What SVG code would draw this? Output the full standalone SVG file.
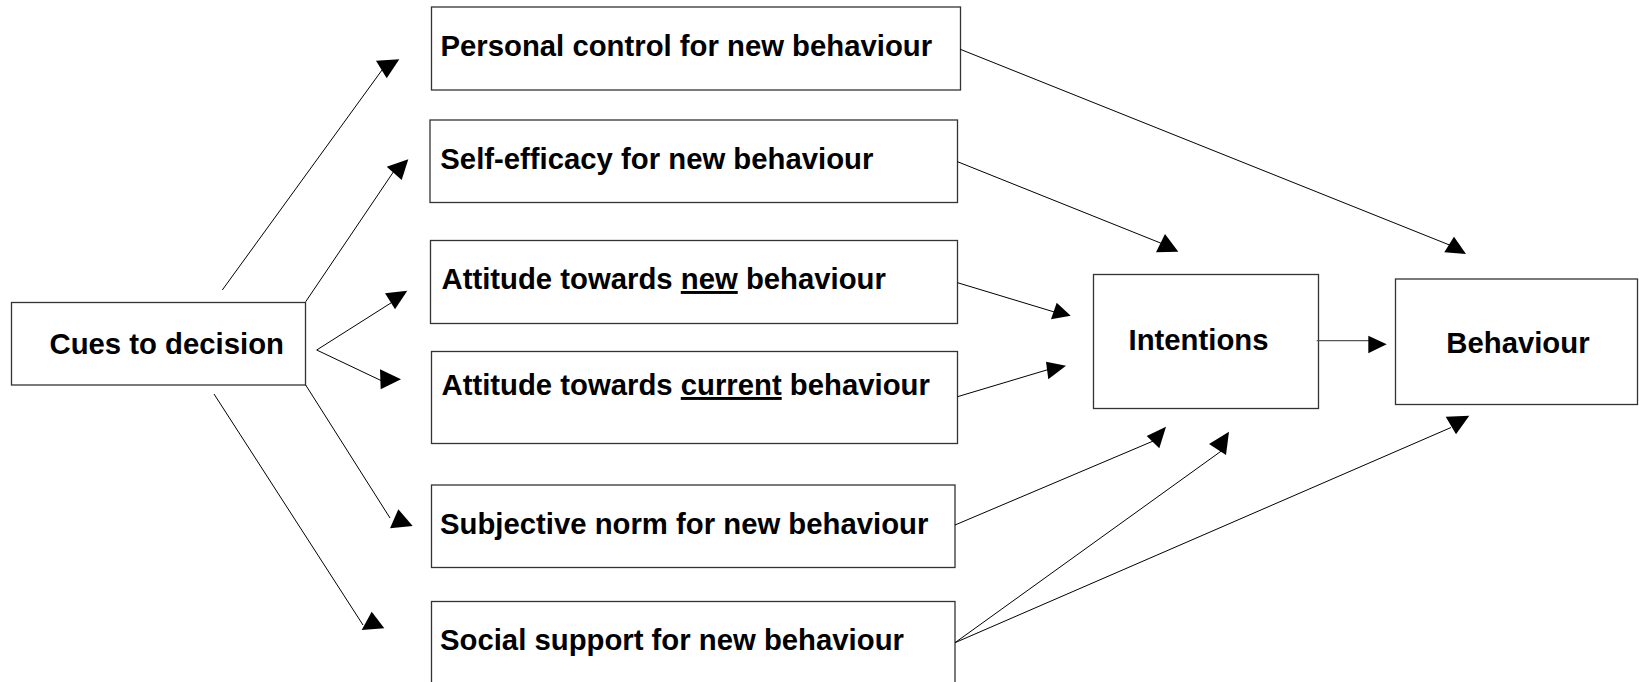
<svg xmlns="http://www.w3.org/2000/svg" width="1639" height="682" viewBox="0 0 1639 682">
<style>
.box{fill:#fff;stroke:#333;stroke-width:1.3}
.t{font-family:"Liberation Sans",Arial,sans-serif;font-weight:bold;font-size:29.3px;fill:#000}
.c{stroke:#000;stroke-width:1;fill:none}
.h{fill:#000;stroke:none}
</style>
<rect width="1639" height="682" fill="#fff"/>
<g id="cues"><rect class="box" x="11.5" y="302.5" width="294" height="82.5"/><text class="t" x="49.5" y="353.5">Cues to decision</text></g>
<g id="personal"><rect class="box" x="431.5" y="7" width="529" height="83"/><text class="t" x="440.5" y="56">Personal control for new behaviour</text></g>
<g id="selfefficacy"><rect class="box" x="430" y="120" width="527.5" height="82.5"/><text class="t" x="440.3" y="168.5">Self-efficacy for new behaviour</text></g>
<g id="attnew"><rect class="box" x="430.5" y="240.5" width="527" height="83"/><text class="t" x="441.5" y="289">Attitude towards <tspan text-decoration="underline">new</tspan> behaviour</text></g>
<g id="attcurrent"><rect class="box" x="431.5" y="351.5" width="526" height="92"/><text class="t" x="441.5" y="395">Attitude towards <tspan text-decoration="underline">current</tspan> behaviour</text></g>
<g id="subjective"><rect class="box" x="431.5" y="485" width="523.5" height="82.5"/><text class="t" x="440" y="534">Subjective norm for new behaviour</text></g>
<g id="social"><rect class="box" x="431.5" y="601.5" width="523.5" height="100"/><text class="t" x="440" y="650">Social support for new behaviour</text></g>
<g id="intentions"><rect class="box" x="1093.5" y="274.5" width="225" height="134"/><text class="t" x="1128.5" y="350">Intentions</text></g>
<g id="behaviour"><rect class="box" x="1395.5" y="279" width="242" height="125.5"/><text class="t" x="1446.3" y="352.5">Behaviour</text></g>
<g id="connectors">
<line class="c" x1="222.3" y1="290" x2="382" y2="70"/><polygon class="h" points="376,60.7 399.3,59.3 386.7,78.3"/>
<line class="c" x1="305.7" y1="301.7" x2="394" y2="171"/><polygon class="h" points="386.7,166.7 408.3,159.3 401.7,180"/>
<line class="c" x1="316.7" y1="350" x2="394" y2="301"/><polygon class="h" points="385,293.3 407.3,290.7 395,309.3"/>
<line class="c" x1="316.7" y1="350" x2="382" y2="381"/><polygon class="h" points="380,369.3 401,379.3 380.7,389.3"/>
<line class="c" x1="305.7" y1="385" x2="390" y2="518"/><polygon class="h" points="390,528.3 398.3,509.3 412.7,526"/>
<line class="c" x1="214" y1="394" x2="363" y2="625"/><polygon class="h" points="361.7,630 371.7,611.7 384.3,628.3"/>
<line class="c" x1="960.3" y1="49.3" x2="1452" y2="246"/><polygon class="h" points="1444.3,252.3 1454,236.7 1466,254"/>
<line class="c" x1="957.5" y1="161.7" x2="1163" y2="244"/><polygon class="h" points="1156,252.3 1165,234 1178.3,251.7"/>
<line class="c" x1="957.5" y1="282.7" x2="1056" y2="312.5"/><polygon class="h" points="1051,319.3 1056.7,302.7 1070.7,315.7"/>
<line class="c" x1="957.5" y1="396.7" x2="1050" y2="369"/><polygon class="h" points="1046,361.7 1066,365.7 1048.3,379.3"/>
<line class="c" x1="955" y1="525" x2="1154" y2="440.7"/><polygon class="h" points="1146.7,436 1166,426.7 1159.3,448.3"/>
<line class="c" x1="955" y1="642.7" x2="1222" y2="450.5"/><polygon class="h" points="1209,444 1229,431.7 1226,455"/>
<line class="c" x1="955" y1="642.7" x2="1451" y2="427.5"/><polygon class="h" points="1445.7,416.7 1469.3,415.7 1456,434.3"/>
<line x1="1316.7" y1="340.7" x2="1370" y2="340.7" stroke="#555" stroke-width="1.3"/><polygon class="h" points="1368.3,335.7 1386.7,344.3 1368.3,353.3"/>
</g>
</svg>
